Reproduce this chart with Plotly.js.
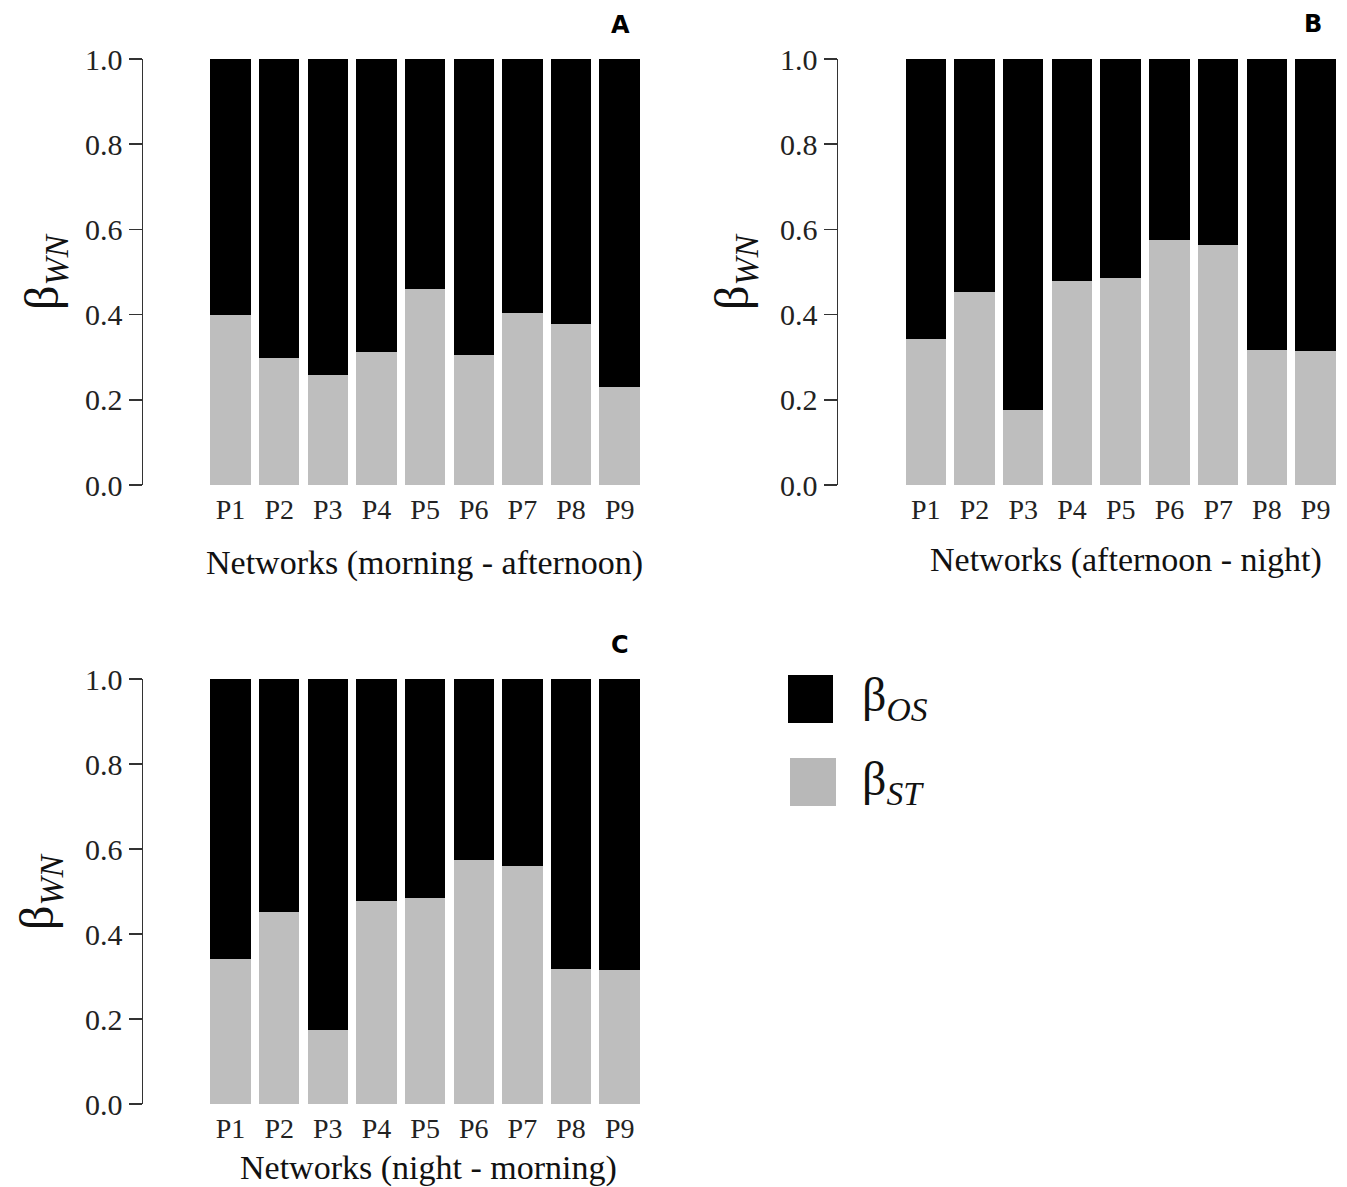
<!DOCTYPE html>
<html>
<head>
<meta charset="utf-8">
<script src="https://cdn.plot.ly/plotly-3.0.1.min.js"></script>
<style>html,body{margin:0;padding:0;background:#fff;}#chart{width:1347px;height:1187px;}</style>
</head>
<body>
<div id="chart"></div>
<script>
const categories = ['P1','P2','P3','P4','P5','P6','P7','P8','P9'];
const yTicks = [0, 0.2, 0.4, 0.6, 0.8, 1.0];
const yTickLabels = ['0.0','0.2','0.4','0.6','0.8','1.0'];

// Panel A (morning - afternoon)
const stA = [0.399, 0.299, 0.258, 0.313, 0.459, 0.305, 0.404, 0.377, 0.231];
const osA = [0.601, 0.701, 0.742, 0.687, 0.541, 0.695, 0.596, 0.623, 0.769];
// Panel B (afternoon - night)
const stB = [0.343, 0.453, 0.175, 0.479, 0.486, 0.575, 0.563, 0.318, 0.315];
const osB = [0.657, 0.547, 0.825, 0.521, 0.514, 0.425, 0.437, 0.682, 0.685];
// Panel C (night - morning)
const stC = [0.341, 0.452, 0.174, 0.478, 0.485, 0.575, 0.561, 0.318, 0.316];
const osC = [0.659, 0.548, 0.826, 0.522, 0.515, 0.425, 0.439, 0.682, 0.684];

const panelLabels = ['A','B','C'];
const xTitles = ['Networks (morning - afternoon)','Networks (afternoon - night)','Networks (night - morning)'];

const W = 1347, H = 1187;
const px = v => v / W;
const py = v => 1 - v / H;

const GREY = '#bebebe', BLACK = '#000000';
const serif = 'Liberation Serif, Times New Roman, serif';

function bars(st, os, xa, ya) {
  return [
    {type:'bar', x:categories, y:st, xaxis:xa, yaxis:ya, name:'βST', marker:{color:GREY, line:{width:0}}, showlegend:false, hoverinfo:'y'},
    {type:'bar', x:categories, y:os, xaxis:xa, yaxis:ya, name:'βOS', marker:{color:BLACK, line:{width:0}}, showlegend:false, hoverinfo:'y'}
  ];
}

const data = [].concat(bars(stA, osA, 'x', 'y'), bars(stB, osB, 'x2', 'y2'), bars(stC, osC, 'x3', 'y3'));

function xaxis(domain, anchor) {
  return {domain:domain, anchor:anchor, type:'category', range:[-1.8, 8.5], showline:false, showgrid:false, zeroline:false,
    ticks:'', ticklabelstandoff:5, tickfont:{family:serif, size:28, color:'#222'}, fixedrange:true};
}
function yaxis(domain, anchor) {
  return {domain:domain, anchor:anchor, range:[0,1], showline:true, linecolor:'#333', linewidth:1.5, showgrid:false, zeroline:false,
    ticks:'outside', ticklen:13, tickwidth:1.5, tickcolor:'#333', tickvals:yTicks, ticktext:yTickLabels,
    tickfont:{family:serif, size:30, color:'#222'}, fixedrange:true};
}

const domA = {x:[px(143), px(644)], y:[py(485), py(59)]};
const domB = {x:[px(838), px(1340)], y:[py(485), py(59)]};
const domC = {x:[px(143), px(644)], y:[py(1104), py(679)]};

const annotations = [];
function addText(text, x, y, size, opts) {
  annotations.push(Object.assign({text:text, xref:'paper', yref:'paper', x:px(x), y:py(y), showarrow:false,
    xanchor:'center', yanchor:'middle', font:{family:serif, size:size, color:'#111'}}, opts || {}));
}
// panel labels
const sansBold = 'DejaVu Sans, Verdana, sans-serif';
addText('<b>'+panelLabels[0]+'</b>', 620, 25, 24, {font:{family:sansBold, size:24, color:'#000'}});
addText('<b>'+panelLabels[1]+'</b>', 1313, 24, 24, {font:{family:sansBold, size:24, color:'#000'}});
addText('<b>'+panelLabels[2]+'</b>', 620, 645, 24, {font:{family:sansBold, size:24, color:'#000'}});
// x titles
addText(xTitles[0], 424, 563, 34);
addText(xTitles[1], 1126, 560, 34);
addText(xTitles[2], 428, 1168, 34);
// y titles
const yTitle = 'β<sub><i>WN</i></sub>';
addText(yTitle, 45, 272, 48, {textangle:-90});
addText(yTitle, 735, 272, 48, {textangle:-90});
addText(yTitle, 40, 892, 48, {textangle:-90});
// legend labels
addText('β<sub><i>OS</i></sub>', 860, 698, 48, {xanchor:'left'});
addText('β<sub><i>ST</i></sub>', 860, 782, 48, {xanchor:'left'});

const shapes = [
  {type:'rect', xref:'paper', yref:'paper', x0:px(788), x1:px(833), y0:py(723), y1:py(675), fillcolor:BLACK, line:{width:0}},
  {type:'rect', xref:'paper', yref:'paper', x0:px(790), x1:px(836), y0:py(806), y1:py(758), fillcolor:'#b8b8b8', line:{width:0}}
];

const layout = {
  width:W, height:H, margin:{l:0, r:0, t:0, b:0}, paper_bgcolor:'#fff', plot_bgcolor:'#fff',
  barmode:'stack', bargap:0.17, showlegend:false,
  xaxis:xaxis(domA.x, 'y'), yaxis:yaxis(domA.y, 'x'),
  xaxis2:xaxis(domB.x, 'y2'), yaxis2:yaxis(domB.y, 'x2'),
  xaxis3:xaxis(domC.x, 'y3'), yaxis3:yaxis(domC.y, 'x3'),
  annotations:annotations, shapes:shapes
};

Plotly.newPlot('chart', data, layout, {displayModeBar:false, staticPlot:true});
</script>
</body>
</html>
